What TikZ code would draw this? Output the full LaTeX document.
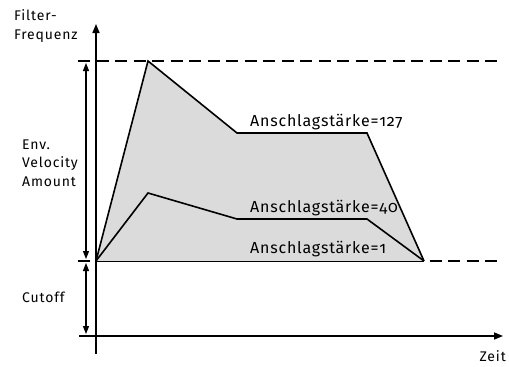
\documentclass[tikz,border=0pt]{standalone}
\usepackage{fontspec}
\setmainfont[Numbers=OldStyle]{Fira Sans}
\newfontfamily\lblfont[Numbers=OldStyle,LetterSpace=6]{Fira Sans}
\newfontfamily\velfont[Numbers=OldStyle,LetterSpace=5]{Fira Sans}
\usetikzlibrary{arrows.meta}
\begin{document}
\begin{tikzpicture}[x=1pt,y=-1pt,
  lbl/.style={font=\lblfont\fontsize{14}{18.5}\selectfont, inner sep=0pt},
  vel/.style={font=\velfont\fontsize{16}{20}\selectfont, inner sep=0pt, anchor=base west},
  axis/.style={line width=1.6pt, -{Triangle[length=9pt,width=7pt]}},
  guide/.style={line width=1.6pt, dash pattern=on 12pt off 6.5pt},
  span/.style={line width=1.2pt, {Triangle[length=8pt,width=6pt]}-{Triangle[length=8pt,width=6pt]}},
  env/.style={line width=1.6pt, line join=miter}]
\useasboundingbox (0,0) rectangle (509,367);

% envelope corner points
\coordinate (o)  at (96,261);
\coordinate (p1) at (148,61);
\coordinate (s1) at (237,133);
\coordinate (r1) at (367,133);
\coordinate (e)  at (424,261);
\coordinate (p2) at (148,193);
\coordinate (s2) at (237,219);
\coordinate (r2) at (367,219);

% guide lines at full sweep and cutoff level
\coordinate (gt0) at (78,61);
\coordinate (gt1) at (500,61);
\coordinate (gb0) at (78,261);
\coordinate (gb1) at (500,261);
\draw[guide] (gt0) -- (gt1);
\draw[guide] (gb0) -- (gb1);

% shaded area under the strongest envelope
\fill[gray!28] (o) -- (p1) -- (s1) -- (r1) -- (e) -- cycle;
\draw[line width=1pt] (o) -- (e);

% envelopes
\draw[env] (o) -- (p1) -- (s1) -- (r1) -- (e);
\draw[env] (o) -- (p2) -- (s2) -- (r2) -- (e);

% axes
\coordinate (yb) at (96,354);
\coordinate (yt) at (96,24);
\coordinate (xl) at (79,336);
\coordinate (xr) at (503,336);
\draw[axis] (yb) -- (yt);
\draw[axis] (xl) -- (xr);

% range arrows
\coordinate (a1) at (86,63);
\coordinate (a2) at (86,259);
\coordinate (a3) at (86,263);
\coordinate (a4) at (86,334);
\draw[span] (a2) -- (a1);
\draw[span] (a4) -- (a3);

% labels
\node[lbl, anchor=west, align=left] (yl) at (14,26) {Filter-\\Frequenz};
\node[lbl, anchor=west, align=left] (ev) at (22,163) {Env.\\Velocity\\Amount};
\node[lbl, anchor=west] (co) at (22,297) {Cutoff};
\node[lbl, anchor=east] (ze) at (506,356) {Zeit};
\node[vel] (v127) at (250,126) {Anschlagstärke=127};
\node[vel] (v40) at (250,212) {Anschlagstärke=40};
\node[vel] (v1) at (250,253) {Anschlagstärke=1};
\end{tikzpicture}
\end{document}
